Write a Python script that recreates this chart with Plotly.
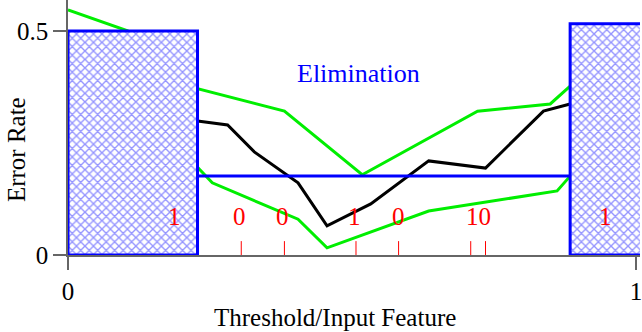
import plotly.graph_objects as go

# ---- data ----
black_x = [0.228, 0.281, 0.328, 0.405, 0.456, 0.533, 0.635, 0.735, 0.837, 0.884]
black_y = [0.299, 0.290, 0.230, 0.161, 0.065, 0.114, 0.210, 0.194, 0.321, 0.337]

upper_x = [0.0, 0.105, 0.228, 0.381, 0.518, 0.721, 0.849, 0.884]
upper_y = [0.547, 0.500, 0.371, 0.321, 0.179, 0.321, 0.337, 0.377]

lower_x = [0.228, 0.254, 0.405, 0.456, 0.635, 0.861, 0.884]
lower_y = [0.196, 0.161, 0.080, 0.016, 0.098, 0.143, 0.176]

elim_x = [0.228, 0.884]
elim_y = [0.176, 0.176]

left_box_x = [0.0, 0.228]
left_box_top = 0.5
right_box_x = [0.884, 1.1]
right_box_top = 0.516

red_tick_x = [0.305, 0.381, 0.507, 0.582, 0.709, 0.735]
red_tick_h = 0.031

count_x = [0.188, 0.302, 0.377, 0.505, 0.582, 0.723, 0.947]
count_labels = ["1", "0", "0", "1", "0", "10", "1"]
count_y = 0.085

x_tickvals = [0, 1]
x_ticktext = ["0", "1"]
y_tickvals = [0, 0.5]
y_ticktext = ["0", "0.5"]

FONT = "Liberation Serif, Times New Roman, serif"
FS = 25

fig = go.Figure()

fig.add_trace(go.Scatter(x=upper_x, y=upper_y, mode="lines",
                         line=dict(color="#00ee00", width=3), showlegend=False, hoverinfo="skip"))
fig.add_trace(go.Scatter(x=lower_x, y=lower_y, mode="lines",
                         line=dict(color="#00ee00", width=3), showlegend=False, hoverinfo="skip"))
fig.add_trace(go.Scatter(x=black_x, y=black_y, mode="lines",
                         line=dict(color="black", width=3), showlegend=False, hoverinfo="skip"))
fig.add_trace(go.Scatter(x=elim_x, y=elim_y, mode="lines",
                         line=dict(color="#0000ff", width=3), showlegend=False, hoverinfo="skip"))

# red tick marks
rx, ry = [], []
for v in red_tick_x:
    rx += [v, v, None]
    ry += [0, red_tick_h, None]
fig.add_trace(go.Scatter(x=rx, y=ry, mode="lines", line=dict(color="red", width=1),
                         showlegend=False, hoverinfo="skip"))

# hatched boxes
def box(xs, top):
    return go.Scatter(
        x=[xs[0], xs[1], xs[1], xs[0], xs[0]],
        y=[0, 0, top, top, 0],
        mode="lines", fill="toself",
        fillcolor="white",
        fillpattern=dict(shape="x", fgcolor="#2a2aff", bgcolor="white", size=6, solidity=0.4),
        line=dict(color="#0000ff", width=3),
        showlegend=False, hoverinfo="skip")

fig.add_trace(box(left_box_x, left_box_top))
fig.add_trace(box(right_box_x, right_box_top))

annotations = []
for xv, t in zip(count_x, count_labels):
    annotations.append(dict(x=xv, y=count_y, text=t, showarrow=False,
                            font=dict(family=FONT, size=FS, color="red")))
annotations.append(dict(x=0.512, y=0.404, text="Elimination", showarrow=False,
                        font=dict(family=FONT, size=26, color="#0000ff")))
annotations.append(dict(x=-0.0889, y=0.412, xref="paper", yref="paper", text="Error Rate",
                        textangle=-90, showarrow=False, xanchor="center", yanchor="middle",
                        font=dict(family=FONT, size=FS, color="black")))
annotations.append(dict(x=0.467, y=-0.247, xref="paper", yref="paper",
                        text="Threshold/Input Feature", showarrow=False,
                        xanchor="center", yanchor="middle",
                        font=dict(family=FONT, size=FS, color="black")))

fig.update_layout(
    width=642, height=332,
    margin=dict(l=68, r=0, t=0, b=77),
    paper_bgcolor="white", plot_bgcolor="white",
    annotations=annotations,
    xaxis=dict(range=[0, 1.007], tickvals=x_tickvals, ticktext=x_ticktext,
               showgrid=False, zeroline=False, showline=True, linecolor="#666666", linewidth=1.5,
               ticks="outside", ticklen=13, tickcolor="#666666", tickwidth=1.5,
               ticklabeloverflow="allow",
               tickfont=dict(family=FONT, size=FS, color="black")),
    yaxis=dict(range=[0, 0.569], tickvals=y_tickvals, ticktext=y_ticktext,
               showgrid=False, zeroline=False, showline=True, linecolor="#666666", linewidth=1.5,
               ticks="outside", ticklen=13, tickcolor="#666666", tickwidth=1.5,
               tickfont=dict(family=FONT, size=FS, color="black")),
)

fig.write_html("out.html", config={"displayModeBar": False},
               post_script="document.body.style.margin='0';document.body.style.padding='0';")
